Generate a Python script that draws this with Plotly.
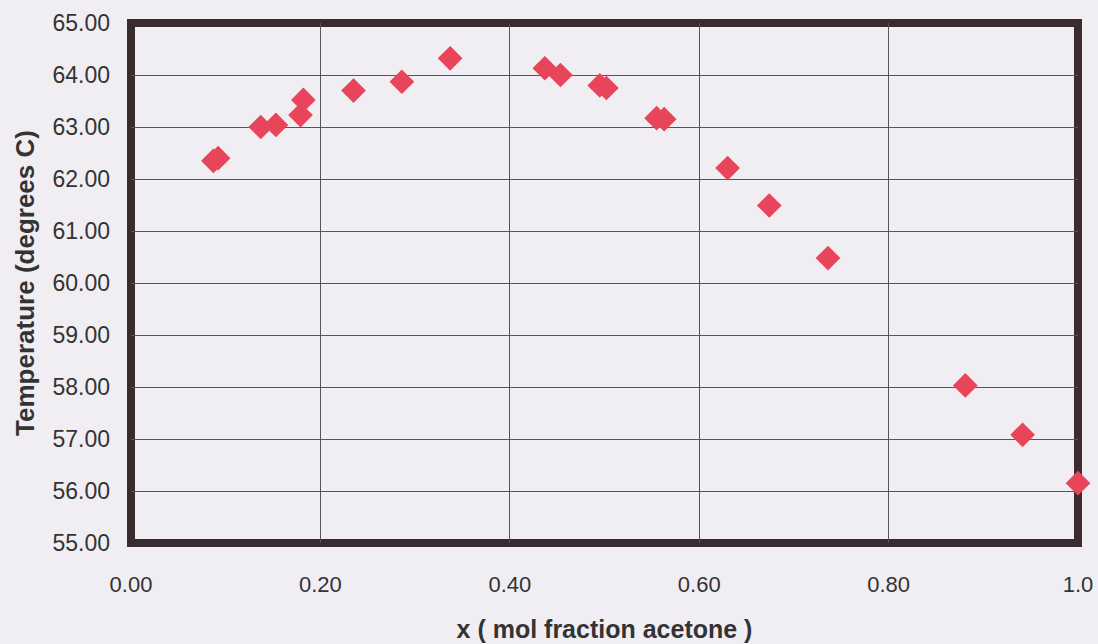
import plotly.graph_objects as go

# Boiling temperature vs. liquid mole fraction of acetone
x_acetone = [0.087, 0.092, 0.137, 0.153, 0.179, 0.182, 0.235, 0.286, 0.337,
             0.437, 0.4535, 0.495, 0.502, 0.555, 0.563, 0.630, 0.674, 0.736,
             0.881, 0.9415, 1.0]
temp_c = [62.35, 62.40, 63.00, 63.04, 63.23, 63.52, 63.70, 63.87, 64.32,
          64.13, 64.00, 63.80, 63.75, 63.17, 63.15, 62.21, 61.49, 60.48,
          58.03, 57.08, 56.15]

x_ticks = [0.0, 0.2, 0.4, 0.6, 0.8, 1.0]
x_tick_labels = ["0.00", "0.20", "0.40", "0.60", "0.80", "1.0"]
y_ticks = [55, 56, 57, 58, 59, 60, 61, 62, 63, 64, 65]
y_tick_labels = [f"{v:.2f}" for v in y_ticks]

BG = "#f0eef3"
FRAME = "#3a2c2e"
GRID = "#56565a"
TEXT = "#333333"
SANS = "Liberation Sans, Arial, sans-serif"

fig = go.Figure(
    go.Scatter(
        x=x_acetone, y=temp_c, mode="markers",
        marker=dict(symbol="diamond", size=19, color="#e8455a",
                    line=dict(width=0)),
        cliponaxis=False, showlegend=False,
    )
)

# heavy dark frame around the plotting area, under the markers
fig.add_shape(type="rect", xref="paper", yref="paper", x0=0, y0=0, x1=1, y1=1,
              line=dict(color=FRAME, width=8), layer="between")

fig.update_layout(
    width=1098, height=644,
    margin=dict(l=131, r=20, t=23, b=101),
    paper_bgcolor=BG, plot_bgcolor=BG,
    xaxis=dict(
        range=[0, 1], tickvals=x_ticks, ticktext=x_tick_labels,
        automargin=False,
        showgrid=True, gridcolor=GRID, gridwidth=1, zeroline=False,
        showline=False, ticks="", ticklabelstandoff=26,
        tickfont=dict(family=SANS, size=22, color=TEXT),
        title=dict(text="<b>x ( mol fraction acetone )</b>", standoff=24,
                   font=dict(family=SANS, size=25, color=TEXT)),
    ),
    yaxis=dict(
        range=[55, 65], tickvals=y_ticks, ticktext=y_tick_labels,
        automargin=False,
        showgrid=True, gridcolor=GRID, gridwidth=1, zeroline=False,
        showline=False, ticks="", ticklabelstandoff=20,
        tickfont=dict(family=SANS, size=23, color=TEXT),
        title=dict(text="<b>Temperature (degrees C)</b>", standoff=10,
                   font=dict(family=SANS, size=26, color=TEXT)),
    ),
)

fig.write_html("out.html")
